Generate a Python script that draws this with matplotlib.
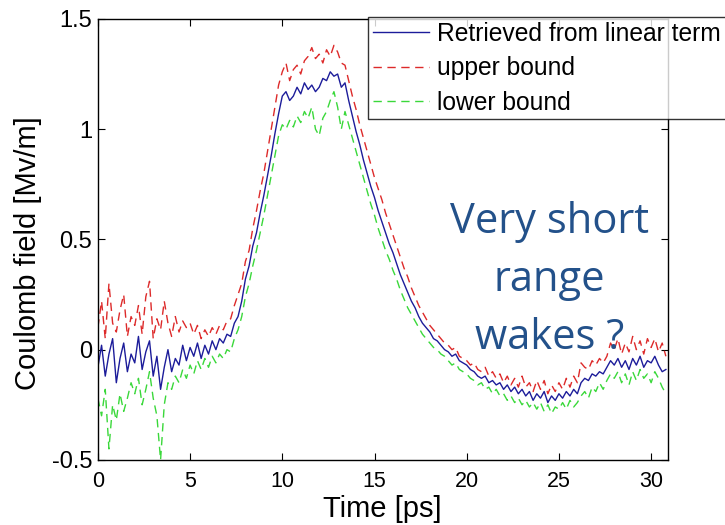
import numpy as np
import matplotlib
matplotlib.use('Agg')
import matplotlib.pyplot as plt
from matplotlib.ticker import FuncFormatter

# data, one sample every 0.2 ps
time_step = 0.2

retrieved = [
    -0.08, 0.02, -0.12, -0.02, 0.05,
    -0.15, -0.04, 0.03, -0.10, -0.02,
    -0.06, 0.06, -0.09, -0.01, 0.04,
    -0.12, -0.03, -0.18, -0.08, 0.00,
    -0.10, -0.04, -0.07, 0.02, -0.05,
    0.01, -0.03, 0.03, -0.04, 0.02,
    -0.02, 0.04, 0.00, 0.05, 0.03,
    0.07, 0.06, 0.12, 0.15, 0.22,
    0.32, 0.38, 0.47, 0.53, 0.62,
    0.70, 0.79, 0.88, 0.98, 1.07,
    1.15, 1.17, 1.13, 1.15, 1.19,
    1.16, 1.21, 1.18, 1.20, 1.17,
    1.19, 1.23, 1.22, 1.26, 1.24,
    1.25, 1.19, 1.21, 1.13, 1.06,
    0.99, 0.93, 0.86, 0.80, 0.74,
    0.69, 0.63, 0.58, 0.53, 0.48,
    0.44, 0.39, 0.34, 0.30, 0.26,
    0.22, 0.19, 0.15, 0.12, 0.10,
    0.08, 0.05, 0.04, 0.02, 0.00,
    -0.01, -0.03, -0.02, -0.05, -0.06,
    -0.07, -0.09, -0.10, -0.12, -0.13,
    -0.12, -0.15, -0.14, -0.16, -0.15,
    -0.18, -0.16, -0.19, -0.17, -0.20,
    -0.18, -0.21, -0.19, -0.23, -0.20,
    -0.22, -0.19, -0.24, -0.21, -0.23,
    -0.20, -0.22, -0.19, -0.21, -0.18,
    -0.20, -0.15, -0.13, -0.14, -0.11,
    -0.12, -0.10, -0.11, -0.08, -0.05,
    -0.07, -0.04, -0.08, -0.05, -0.09,
    -0.04, -0.07, -0.03, -0.08, -0.05,
    -0.06, -0.03, -0.07, -0.10, -0.09,
]

upper = [
    0.10, 0.22, 0.05, 0.30, 0.12,
    0.08, 0.18, 0.25, 0.06, 0.15,
    0.11, 0.20, 0.07, 0.24, 0.31,
    0.05, 0.14, 0.09, 0.22, 0.12,
    0.06, 0.15, 0.08, 0.13, 0.10,
    0.12, 0.07, 0.11, 0.05, 0.09,
    0.06, 0.10, 0.07, 0.11, 0.09,
    0.13, 0.14, 0.20, 0.25, 0.30,
    0.40, 0.45, 0.55, 0.63, 0.72,
    0.80, 0.90, 1.00, 1.10, 1.20,
    1.26, 1.30, 1.22, 1.27, 1.29,
    1.25, 1.31, 1.33, 1.37, 1.32,
    1.34, 1.30, 1.36, 1.33, 1.38,
    1.35, 1.30, 1.29, 1.22, 1.15,
    1.09, 1.02, 0.96, 0.90, 0.84,
    0.78, 0.73, 0.68, 0.62, 0.57,
    0.52, 0.47, 0.42, 0.37, 0.33,
    0.28, 0.24, 0.20, 0.17, 0.14,
    0.11, 0.09, 0.07, 0.05, 0.03,
    0.02, 0.00, 0.01, -0.03, -0.04,
    -0.05, -0.07, -0.06, -0.09, -0.10,
    -0.08, -0.12, -0.10, -0.13, -0.11,
    -0.15, -0.12, -0.16, -0.13, -0.17,
    -0.12, -0.17, -0.15, -0.19, -0.14,
    -0.18, -0.14, -0.20, -0.16, -0.19,
    -0.15, -0.18, -0.13, -0.17, -0.12,
    -0.15, -0.06, -0.08, -0.09, -0.05,
    -0.07, -0.04, -0.06, -0.03, 0.03,
    0.00, 0.05, -0.02, 0.03, -0.01,
    0.06, 0.00, 0.04, -0.02, 0.05,
    0.01, 0.05, -0.01, 0.03, -0.03,
]

lower = [
    -0.22, -0.30, -0.18, -0.45, -0.25,
    -0.32, -0.20, -0.28, -0.22, -0.15,
    -0.20, -0.13, -0.25, -0.18, -0.10,
    -0.22, -0.30, -0.50, -0.25, -0.15,
    -0.18, -0.12, -0.15, -0.09, -0.13,
    -0.07, -0.11, -0.05, -0.09, -0.04,
    -0.08, -0.03, -0.06, -0.02, -0.04,
    0.00, -0.01, 0.05, 0.09, 0.15,
    0.24, 0.30, 0.38, 0.45, 0.53,
    0.61, 0.70, 0.79, 0.88, 0.97,
    1.02, 1.00, 1.04, 1.01, 1.06,
    1.03, 1.08, 1.05, 1.10, 1.00,
    0.97, 1.05, 1.08, 1.13, 1.17,
    1.10, 1.00, 1.08, 1.02, 0.96,
    0.90, 0.84, 0.78, 0.72, 0.66,
    0.61, 0.55, 0.50, 0.45, 0.41,
    0.36, 0.32, 0.27, 0.23, 0.19,
    0.16, 0.13, 0.10, 0.07, 0.05,
    0.03, 0.01, 0.00, -0.02, -0.03,
    -0.05, -0.07, -0.06, -0.09, -0.10,
    -0.11, -0.13, -0.14, -0.16, -0.15,
    -0.18, -0.17, -0.20, -0.18, -0.21,
    -0.20, -0.23, -0.21, -0.24, -0.22,
    -0.25, -0.23, -0.26, -0.24, -0.27,
    -0.24, -0.28, -0.25, -0.29, -0.26,
    -0.27, -0.24, -0.27, -0.23, -0.26,
    -0.24, -0.21, -0.19, -0.22, -0.17,
    -0.19, -0.15, -0.18, -0.14, -0.11,
    -0.13, -0.10, -0.15, -0.11, -0.16,
    -0.10, -0.14, -0.09, -0.13, -0.11,
    -0.15, -0.10, -0.13, -0.17, -0.20,
]

labels = ['Retrieved from linear term', 'upper bound', 'lower bound']
x_ticks = [0, 5, 10, 15, 20, 25, 30]
y_ticks = [-0.5, 0, 0.5, 1, 1.5]

time = np.arange(len(retrieved)) * time_step

plt.rcParams['font.family'] = ['Liberation Sans', 'DejaVu Sans']

fig = plt.figure(figsize=(7.25, 5.25), dpi=100, facecolor='white')
ax = fig.add_axes([0.135, 0.124, 0.786, 0.84])

ax.plot(time, retrieved, color='#1c1c9a', linewidth=1.0, label=labels[0])
ax.plot(time, upper, color='#dd2a2a', linewidth=1.0, linestyle=(0, (6, 4)), label=labels[1])
ax.plot(time, lower, color='#3ad83a', linewidth=1.0, linestyle=(0, (6, 4)), label=labels[2])

ax.set_xlim(0, 30.9)
ax.set_ylim(-0.5, 1.5)
ax.set_xticks(x_ticks)
ax.set_yticks(y_ticks)
ax.yaxis.set_major_formatter(FuncFormatter(lambda v, p: '%g' % v))
ax.tick_params(direction='in', top=True, right=True, length=5)
ax.tick_params(axis='x', labelsize=15.5, pad=8)
ax.tick_params(axis='y', labelsize=17, pad=4)
for s in ax.spines.values():
    s.set_linewidth(1.0)

ax.set_xlabel('Time [ps]', fontsize=21, labelpad=2)
ax.set_ylabel('Coulomb field [Mv/m]', fontsize=21)
ax.yaxis.set_label_coords(-0.098, 0.47)

# annotation text on the right side
ax.text(24.5, 0.315, 'Very short\nrange\nwakes ?', color='#23518a', fontsize=30,
        family=['Open Sans', 'DejaVu Sans'], ha='center', va='center',
        multialignment='center', linespacing=1.5)

leg = fig.legend(loc='upper left', bbox_to_anchor=(368 / 725, 1 - 17 / 525),
                 fontsize=17.7, frameon=True, fancybox=False, edgecolor='black',
                 handlelength=2.3, handletextpad=0.3, labelspacing=0.42,
                 borderpad=0.2, borderaxespad=0)
leg.get_frame().set_linewidth(1.0)

fig.savefig('out.png', dpi=100)
